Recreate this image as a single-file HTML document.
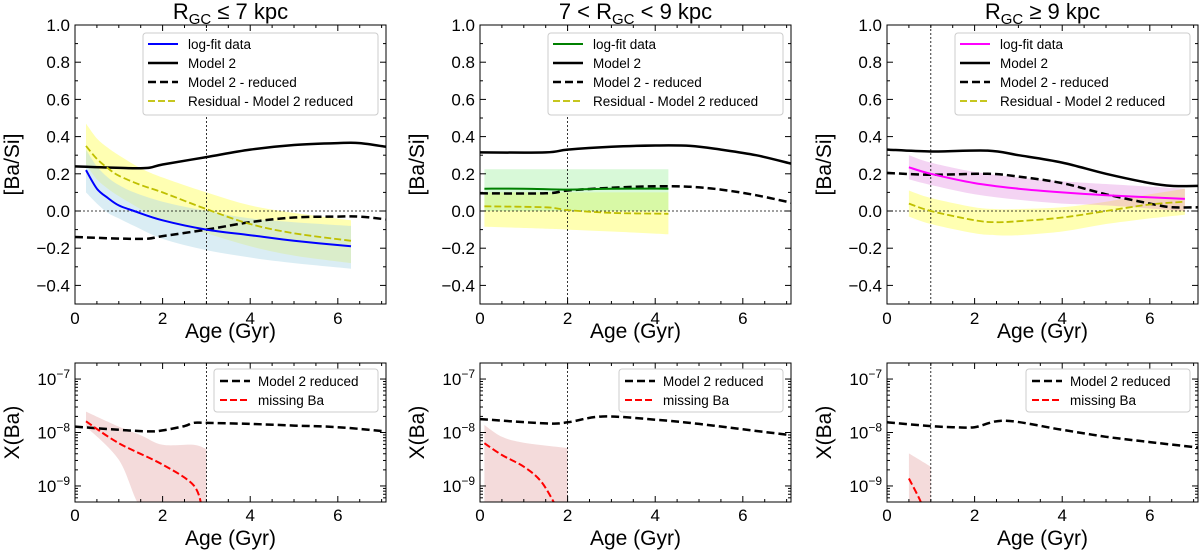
<!DOCTYPE html>
<html><head><meta charset="utf-8"><style>
body{margin:0;background:#fff;}
svg{display:block;font-family:"Liberation Sans",sans-serif;}
</style></head><body>
<svg id="fig" width="1200" height="552" viewBox="0 0 1200 552"></svg>
<script>
// ---------- data (ages in Gyr) ----------
const vlines = [3, 2, 1];
const yTicks = [-0.4,-0.2,0.0,0.2,0.4,0.6,0.8,1.0];
const xTicks = [0,2,4,6];
const logTicks = [-9,-8,-7];
const fitColors = ["#0000ff","#008000","#ff00ff"];
const fitBandColors = ["rgba(173,216,230,0.45)","rgba(144,238,144,0.35)","rgba(218,112,214,0.3)"];

const m2X = [[0,1.5,2,3,4,5,6,6.5,7.1],[0,1.5,2,3,4,4.8,5.5,6.3,7.1],[0,1,2.3,3,4,5,6,6.5,7.1]];
const m2Y = [[0.24,0.23,0.25,0.29,0.33,0.355,0.365,0.365,0.345],[0.315,0.315,0.33,0.345,0.352,0.35,0.33,0.30,0.255],[0.33,0.32,0.325,0.30,0.26,0.20,0.15,0.135,0.135]];
const redY = [[-0.14,-0.15,-0.135,-0.10,-0.06,-0.035,-0.03,-0.03,-0.045],[0.095,0.095,0.11,0.125,0.133,0.13,0.115,0.085,0.045],[0.205,0.195,0.20,0.185,0.15,0.09,0.04,0.02,0.02]];

const fitX = [[0.25,0.5,0.75,1,1.35,2,3,4,5,6.3],[0.1,1,2,3,4.3],[0.5,1,2,3,4,5,6.8]];
const fitY = [[0.22,0.12,0.07,0.03,0.0,-0.05,-0.10,-0.13,-0.16,-0.19],[0.12,0.12,0.115,0.12,0.12],[0.235,0.2,0.15,0.12,0.1,0.085,0.065]];
const fitHi = [[0.33,0.24,0.18,0.14,0.10,0.05,0.0,-0.04,-0.06,-0.08],[0.225,0.225,0.225,0.225,0.225],[0.30,0.26,0.21,0.18,0.16,0.145,0.12]];
const fitLo = [[0.10,0.04,-0.01,-0.04,-0.08,-0.15,-0.21,-0.25,-0.28,-0.31],[0.0,0.0,0.0,0.0,0.0],[0.17,0.14,0.09,0.06,0.04,0.03,0.0]];

const resX = [[0.25,0.5,0.75,1,1.5,2,3,4,5,6.3],[0.1,1.5,2,3,4.3],[0.5,1,2,2.5,3,4,5,6,6.8]];
const resY = [[0.35,0.28,0.23,0.19,0.14,0.10,0.01,-0.07,-0.12,-0.16],[0.025,0.02,0.005,-0.01,-0.015],[0.04,0.0,-0.05,-0.06,-0.055,-0.035,0.0,0.035,0.05]];
const resHi = [[0.47,0.39,0.34,0.30,0.23,0.18,0.10,0.03,-0.01,-0.05],[0.1,0.1,0.1,0.1,0.1],[0.11,0.07,0.02,0.01,0.01,0.02,0.05,0.09,0.12]];
const resLo = [[0.25,0.17,0.12,0.08,0.01,-0.05,-0.12,-0.19,-0.24,-0.28],[-0.085,-0.095,-0.1,-0.11,-0.125],[-0.03,-0.07,-0.12,-0.13,-0.13,-0.11,-0.07,-0.04,-0.02]];

// bottom panels: log10 X(Ba)
const xbX = [[0,1,1.7,2,2.5,2.7,3,4,5,6,7.1],[0,1.5,2,2.8,4,5,6,7.1],[0,1,1.5,2,2.7,4,5,6,7.1]];
const xbY = [[-7.89,-7.95,-7.98,-7.96,-7.88,-7.82,-7.82,-7.84,-7.87,-7.9,-7.98],[-7.75,-7.83,-7.81,-7.7,-7.76,-7.84,-7.94,-8.05],[-7.81,-7.88,-7.9,-7.9,-7.78,-7.95,-8.08,-8.18,-8.28]];
const missX = [[0.25,1,2,2.7,2.9],[0.1,0.5,1,1.4,1.75],[0.5,0.75,0.8]];
const missY = [[-7.79,-8.2,-8.6,-8.98,-9.4],[-8.2,-8.42,-8.64,-8.92,-9.4],[-8.86,-9.26,-9.4]];
const missBandX = [[0.25,1,1.5,2,2.7,3],[0.1,0.5,1,2],[0.5,1]];
const missHi = [[-7.61,-7.89,-8.05,-8.23,-8.23,-8.31],[-7.86,-8.08,-8.19,-8.29],[-8.39,-8.64]];
const missLo = [[-7.89,-8.51,-9.4,-9.4,-9.4,-9.4],[-9.4,-9.4,-9.4,-9.4],[-9.4,-9.4]];

// ---------- layout ----------
const NS="http://www.w3.org/2000/svg";
const svg=document.getElementById('fig');
const lefts=[75,480,887], PW=311, XMAX=7.1;
const TT=25, TB=304, BT=363, BB=502;
function sx(p,v){return lefts[p]+v*PW/XMAX;}
function sy(v){return TT+(1.0-v)*(TB-TT)/1.5;}
function ly(v){return BT+(-6.7-v)*(BB-BT)/2.6;}
function el(tag,attrs,parent){const e=document.createElementNS(NS,tag);for(const k in attrs)e.setAttribute(k,attrs[k]);(parent||svg).appendChild(e);return e;}
function smooth(pts){
  let d="M"+pts[0][0].toFixed(1)+","+pts[0][1].toFixed(1);
  for(let i=0;i<pts.length-1;i++){
    const p0=pts[i-1]||pts[i],p1=pts[i],p2=pts[i+1],p3=pts[i+2]||p2;
    const c1=[p1[0]+(p2[0]-p0[0])/6,p1[1]+(p2[1]-p0[1])/6],c2=[p2[0]-(p3[0]-p1[0])/6,p2[1]-(p3[1]-p1[1])/6];
    d+=" C"+c1[0].toFixed(1)+","+c1[1].toFixed(1)+" "+c2[0].toFixed(1)+","+c2[1].toFixed(1)+" "+p2[0].toFixed(1)+","+p2[1].toFixed(1);
  }
  return d;
}
function bandPath(hi,lo){
  const rev=lo.slice().reverse();
  let d=smooth(hi);
  d+=" L"+smooth(rev).slice(1);
  return d+" Z";
}
const defs=el('defs',{});
function txt(x,y,s,size,anchor,parent,name){const t=el('text',{x:x,y:y,'font-size':size,'text-anchor':anchor||'middle',fill:'#000'},parent);t.textContent=s;return t;}

for(let p=0;p<3;p++){
  const L=lefts[p],R=L+PW;
  const c1=el('clipPath',{id:'ct'+p},defs); el('rect',{x:L,y:TT,width:PW,height:TB-TT},c1);
  const c2=el('clipPath',{id:'cb'+p},defs); el('rect',{x:L,y:BT,width:PW,height:BB-BT},c2);

  // ===== TOP PANEL =====
  const g=el('g',{'clip-path':'url(#ct'+p+')'});
  
  
  const rb=el('path',{d:bandPath(resX[p].map((x,i)=>[sx(p,x),sy(resHi[p][i])]),resX[p].map((x,i)=>[sx(p,x),sy(resLo[p][i])])),fill:'rgba(255,255,0,0.3)'},g);
  
  
  const fb=el('path',{d:bandPath(fitX[p].map((x,i)=>[sx(p,x),sy(fitHi[p][i])]),fitX[p].map((x,i)=>[sx(p,x),sy(fitLo[p][i])])),fill:fitBandColors[p]},g);
  
  
  const h0=el('line',{x1:L,x2:R,y1:sy(0),y2:sy(0),stroke:'#000','stroke-width':0.8,'stroke-dasharray':'2,2'},g);
  
  
  const vl=el('line',{x1:sx(p,vlines[p]),x2:sx(p,vlines[p]),y1:TT,y2:TB,stroke:'#000','stroke-width':0.8,'stroke-dasharray':'2,2'},g);
  
  
  const m2=el('path',{d:smooth(m2X[p].map((x,i)=>[sx(p,x),sy(m2Y[p][i])])),fill:'none',stroke:'#000','stroke-width':2.5},g);
  
  
  const rd=el('path',{d:smooth(m2X[p].map((x,i)=>[sx(p,x),sy(redY[p][i])])),fill:'none',stroke:'#000','stroke-width':2.5,'stroke-dasharray':'8,4'},g);
  
  
  const fl=el('path',{d:smooth(fitX[p].map((x,i)=>[sx(p,x),sy(fitY[p][i])])),fill:'none',stroke:fitColors[p],'stroke-width':2},g);
  
  
  const rl=el('path',{d:smooth(resX[p].map((x,i)=>[sx(p,x),sy(resY[p][i])])),fill:'none',stroke:'#bfbf00','stroke-width':1.8,'stroke-dasharray':'7,3'},g);
  
  

  const fr=el('rect',{x:L,y:TT,width:PW,height:TB-TT,fill:'none',stroke:'#000','stroke-width':1});
  
  
  for(let v=0;v<=7.01;v+=0.5){const x=sx(p,v),len=(Math.abs(v%2)<0.01)?6:3;el('line',{x1:x,x2:x,y1:TB,y2:TB-len,stroke:'#000'});el('line',{x1:x,x2:x,y1:TT,y2:TT+len,stroke:'#000'});}
  for(let k=-5;k<=10;k++){const v=k/10,y=sy(v),len=(k%2===0)?6:3;el('line',{x1:L,x2:L+len,y1:y,y2:y,stroke:'#000'});el('line',{x1:R,x2:R-len,y1:y,y2:y,stroke:'#000'});}
  yTicks.forEach(v=>{txt(L-5,sy(v)+6,(v<0?'\u2212':'')+Math.abs(v).toFixed(1),17,'end',null,'y-tick-label');});
  xTicks.forEach(v=>{txt(sx(p,v),TB+20,String(v),17,'middle',null,'x-tick-label');});
  txt(L+PW/2,TB+34,'Age (Gyr)',21,'middle',null,'x-axis-title');
  const yt=txt(0,0,'[Ba/Si]',21,'middle',null,'y-axis-title');yt.setAttribute('transform','translate('+(L-56)+','+((TT+TB)/2)+') rotate(-90)');
  const tl=el('text',{x:L+PW/2,y:19,'font-size':22,'text-anchor':'middle'});
  
  
  if(p===0){tl.innerHTML='R<tspan font-size="15" dy="5">GC</tspan><tspan dy="-5"> ≤ 7 kpc</tspan>';}
  else if(p===1){tl.innerHTML='7 &lt; R<tspan font-size="15" dy="5">GC</tspan><tspan dy="-5"> &lt; 9 kpc</tspan>';}
  else{tl.innerHTML='R<tspan font-size="15" dy="5">GC</tspan><tspan dy="-5"> ≥ 9 kpc</tspan>';}
  const lg=el('g',{});
  
  
  el('rect',{x:L+68,y:33,width:235,height:82,rx:3,fill:'#fff',stroke:'#ccc'},lg);
  const items=[['log-fit data',fitColors[p],2,'none'],['Model 2','#000',2.5,'none'],['Model 2 - reduced','#000',2.5,'8,4'],['Residual - Model 2 reduced','#bfbf00',1.8,'7,3']];
  items.forEach((it,i)=>{const y=44+i*19;el('line',{x1:L+73,x2:L+103,y1:y,y2:y,stroke:it[1],'stroke-width':it[2],'stroke-dasharray':it[3]},lg);txt(L+113,y+5,it[0],13.5,'start',lg,'legend-entry');});

  // ===== BOTTOM PANEL =====
  const gb=el('g',{'clip-path':'url(#cb'+p+')'});
  
  
  const mb=el('path',{d:bandPath(missBandX[p].map((x,i)=>[sx(p,x),ly(missHi[p][i])]),missBandX[p].map((x,i)=>[sx(p,x),ly(missLo[p][i])])),fill:'rgba(205,92,92,0.22)'},gb);
  
  
  const vb=el('line',{x1:sx(p,vlines[p]),x2:sx(p,vlines[p]),y1:BT,y2:BB,stroke:'#000','stroke-width':0.8,'stroke-dasharray':'2,2'},gb);
  
  
  const xr=el('path',{d:smooth(xbX[p].map((x,i)=>[sx(p,x),ly(xbY[p][i])])),fill:'none',stroke:'#000','stroke-width':2.5,'stroke-dasharray':'8,4'},gb);
  
  
  const ms=el('path',{d:smooth(missX[p].map((x,i)=>[sx(p,x),ly(missY[p][i])])),fill:'none',stroke:'#ff0000','stroke-width':2,'stroke-dasharray':'7,3'},gb);
  
  
  const fb2=el('rect',{x:L,y:BT,width:PW,height:BB-BT,fill:'none',stroke:'#000','stroke-width':1});
  
  
  for(let v=0;v<=7.01;v+=0.5){const x=sx(p,v),len=(Math.abs(v%2)<0.01)?6:3;el('line',{x1:x,x2:x,y1:BB,y2:BB-len,stroke:'#000'});el('line',{x1:x,x2:x,y1:BT,y2:BT+len,stroke:'#000'});}
  for(let d=-10;d<=-7;d++){for(let m=1;m<10;m++){const v=d+Math.log10(m),y=ly(v);if(y<BT||y>BB)continue;const len=m===1?6:3;el('line',{x1:L,x2:L+len,y1:y,y2:y,stroke:'#000'});el('line',{x1:R,x2:R-len,y1:y,y2:y,stroke:'#000'});}}
  logTicks.forEach(v=>{const t=el('text',{x:L-5,y:ly(v)+6,'font-size':17,'text-anchor':'end'});t.innerHTML='10<tspan font-size="12" dy="-7">\u2212'+Math.abs(v)+'</tspan>';});
  xTicks.forEach(v=>{txt(sx(p,v),BB+19,String(v),17,'middle',null,'x-tick-label');});
  txt(L+PW/2,BB+43,'Age (Gyr)',21,'middle',null,'x-axis-title');
  const yb=txt(0,0,'X(Ba)',21,'middle',null,'y-axis-title');yb.setAttribute('transform','translate('+(L-56)+','+((BT+BB)/2)+') rotate(-90)');
  const lb=el('g',{});
  
  
  el('rect',{x:L+139,y:369,width:164,height:43,rx:3,fill:'#fff',stroke:'#ccc'},lb);
  el('line',{x1:L+145,x2:L+175,y1:381,y2:381,stroke:'#000','stroke-width':2.5,'stroke-dasharray':'8,4'},lb);
  txt(L+183,386,'Model 2 reduced',13.5,'start',lb,'legend-entry');
  el('line',{x1:L+145,x2:L+175,y1:400,y2:400,stroke:'#ff0000','stroke-width':2,'stroke-dasharray':'7,3'},lb);
  txt(L+183,405,'missing Ba',13.5,'start',lb,'legend-entry');
}
</script>
</body></html>
